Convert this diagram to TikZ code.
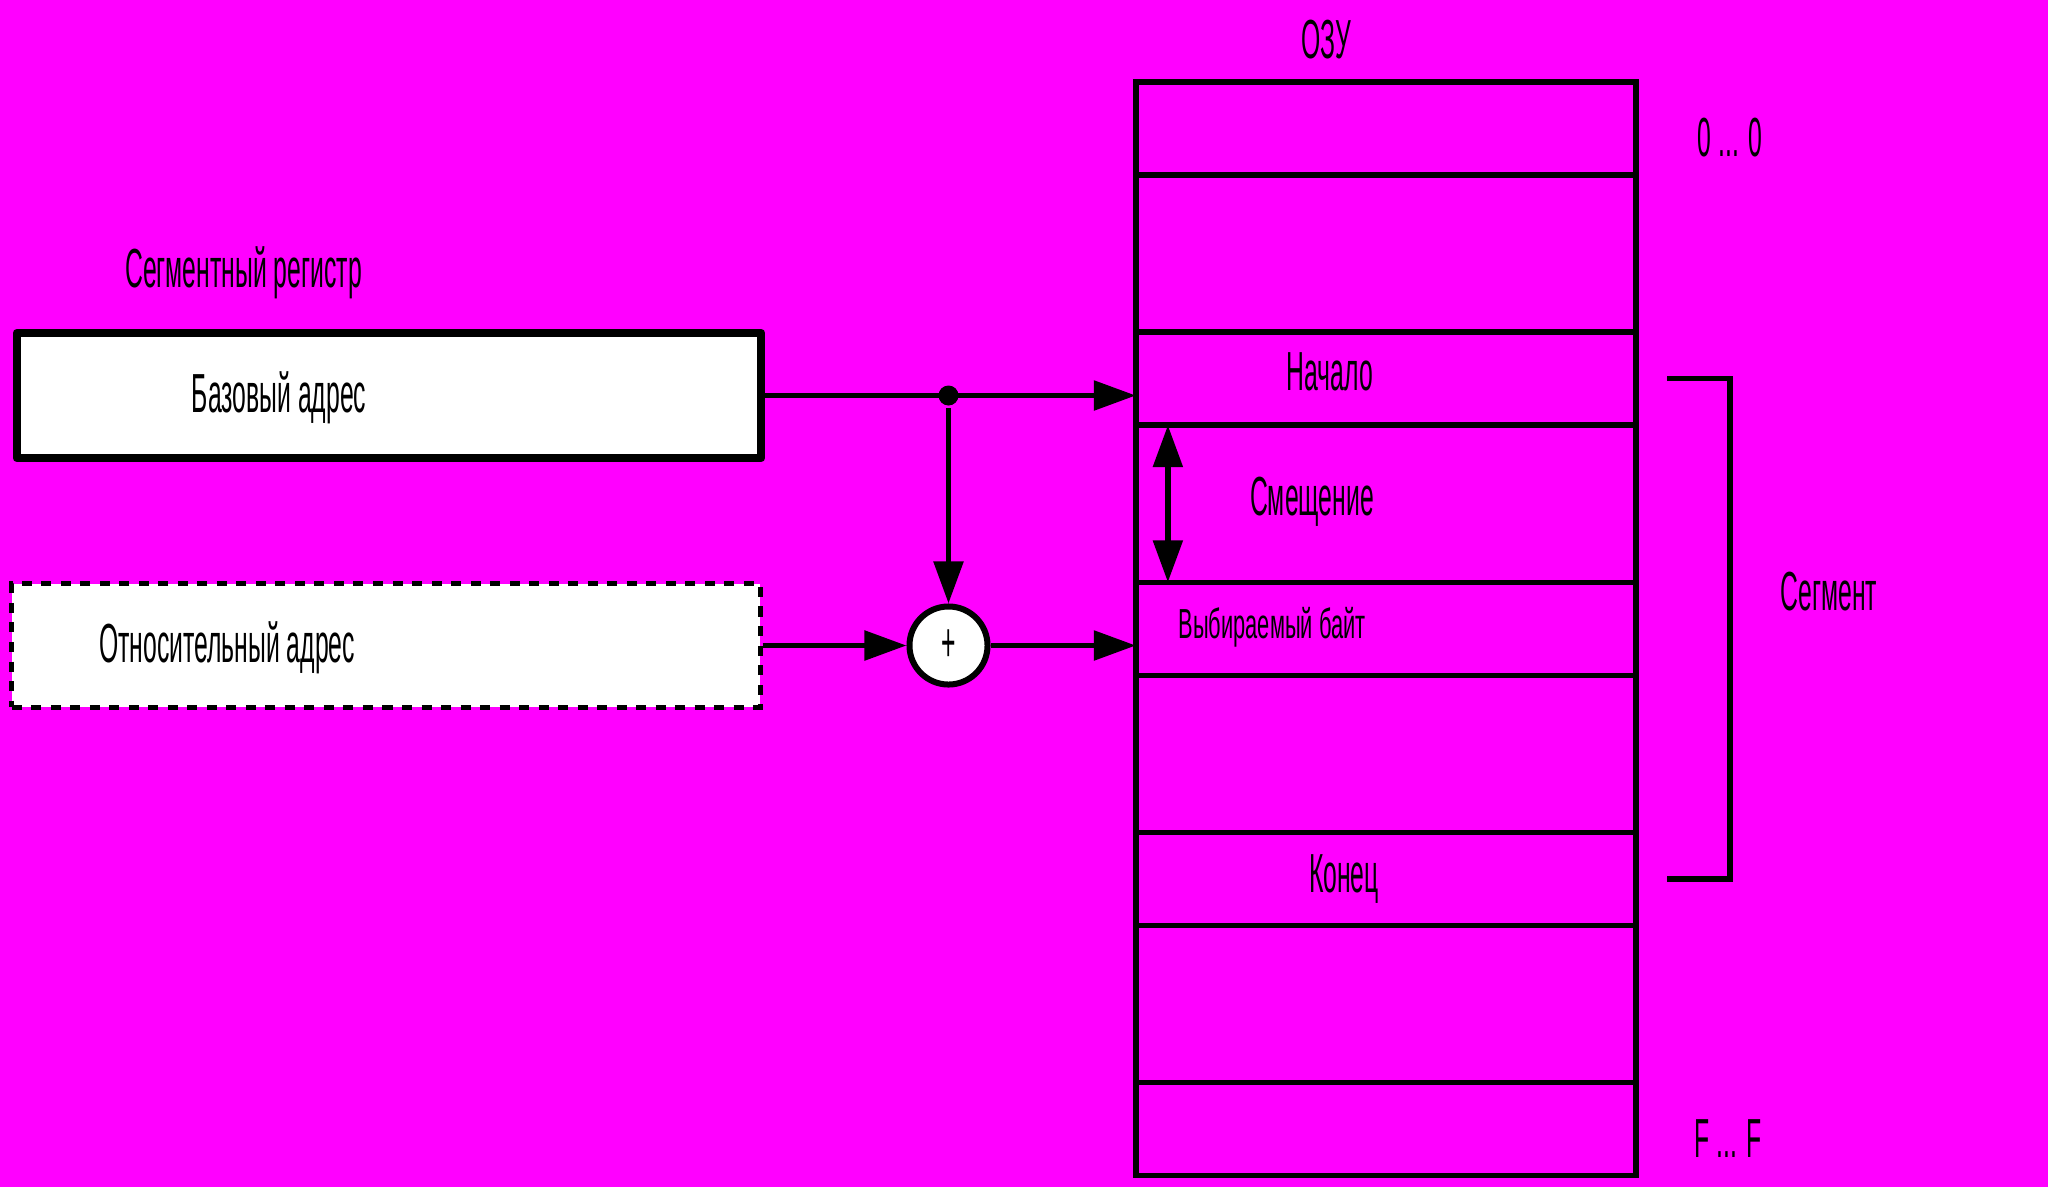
\documentclass[tikz,border=0pt]{standalone}
\usepackage{fontspec}
\setmainfont{Liberation Sans}[FakeStretch=0.45]
\newfontfamily\narrowfont{Liberation Sans}[FakeStretch=0.52]
\usetikzlibrary{arrows.meta,positioning}
\definecolor{bg}{HTML}{FF00FF}

\begin{document}
\begin{tikzpicture}[x=0.01cm,y=-0.01cm,>={Triangle[length=4.2mm,width=2.9mm]},line width=0.55mm,
		font=\fontsize{15.65}{18}\selectfont]
		\tikzstyle{reg}=[rectangle, draw=black, fill=white, line width=0.83mm, line join=round, minimum width=7.44cm, minimum height=1.25cm]
		\tikzstyle{reg rel}=[rectangle, draw=black, fill=white, line width=0.5mm, dash pattern=on 1mm off 0.95mm, minimum width=7.48cm, minimum height=1.23cm]
		\tikzstyle{cell}=[rectangle, draw=black, outer sep=0pt, minimum width=5cm]
		\tikzstyle{cell small}=[cell, minimum height=0.93cm]
		\tikzstyle{cell big}=[cell, minimum height=1.57cm]
		\tikzstyle{sum}=[circle, draw=black, fill=white, line width=0.6mm, minimum size=0.78cm, inner sep=0pt]
		\tikzstyle{dot}=[circle, fill=black, minimum size=0.2cm, inner sep=0pt]
		\tikzstyle{txt}=[anchor=base, inner sep=0pt]

		\fill[bg] (0,0) rectangle (2048,1187);
		\useasboundingbox (0,0) rectangle (2048,1187);

		% registers
		\node [reg] (base) at (389,395.5) {};
		\node [reg rel] (rel) at (386,645.5) {};
		\node [txt] (segreg) at (243.5,287) {Сегментный регистр};
		\node [txt] (baselbl) at (279,412) {Базовый адрес};
		\node [txt] (rellbl) at (227,662) {Относительный адрес};

		% memory
		\node [cell small] (top) at (1386,128.5) {};
		\node [cell big] (free1) [below=0pt of top] {};
		\node [cell small] (start) [below=0pt of free1] {};
		\node [cell big] (offset) [below=0pt of start] {};
		\node [cell small] (byte) [below=0pt of offset] {};
		\node [cell big] (free2) [below=0pt of byte] {};
		\node [cell small] (stop) [below=0pt of free2] {};
		\node [cell big] (free3) [below=0pt of stop] {};
		\node [cell small] (last) [below=0pt of free3] {};

		\node [txt] (ram) at (1326,58) {ОЗУ};
		\node [txt] (addrlo) at (1730,156) {0 ... 0};
		\node [txt] (addrhi) at (1728,1157) {F ... F};
		\node [txt] (startlbl) at (1330,390) {Начало};
		\node [txt] (offsetlbl) at (1312,515) {Смещение};
		\node [txt, font=\narrowfont\fontsize{11.95}{14}\selectfont] (bytelbl) at (1272,638) {Выбираемый байт};
		\node [txt] (stoplbl) at (1344,892) {Конец};
		\node [txt] (seglbl) at (1829,610) {Сегмент};

		% adder
		\node [sum] (sum) at (948.5,645.5) {+};
		\node [dot] (fork) at (base.east -| sum) {};

		\draw [->] (base.east) -- (base.east -| start.west);
		\draw [->] (fork) -- (sum);
		\draw [->] (rel.east) -- (sum);
		\draw [->] (sum) -- (sum -| byte.west);
		\draw [<->] ([xshift=3.2mm]offset.north west) -- ([xshift=3.2mm]offset.south west);

		% segment bracket
		\draw ([xshift=3.1mm]start.east) -| ([xshift=9.4mm]stop.east) -- ([xshift=3.1mm]stop.east);
	\end{tikzpicture}
\end{document}
